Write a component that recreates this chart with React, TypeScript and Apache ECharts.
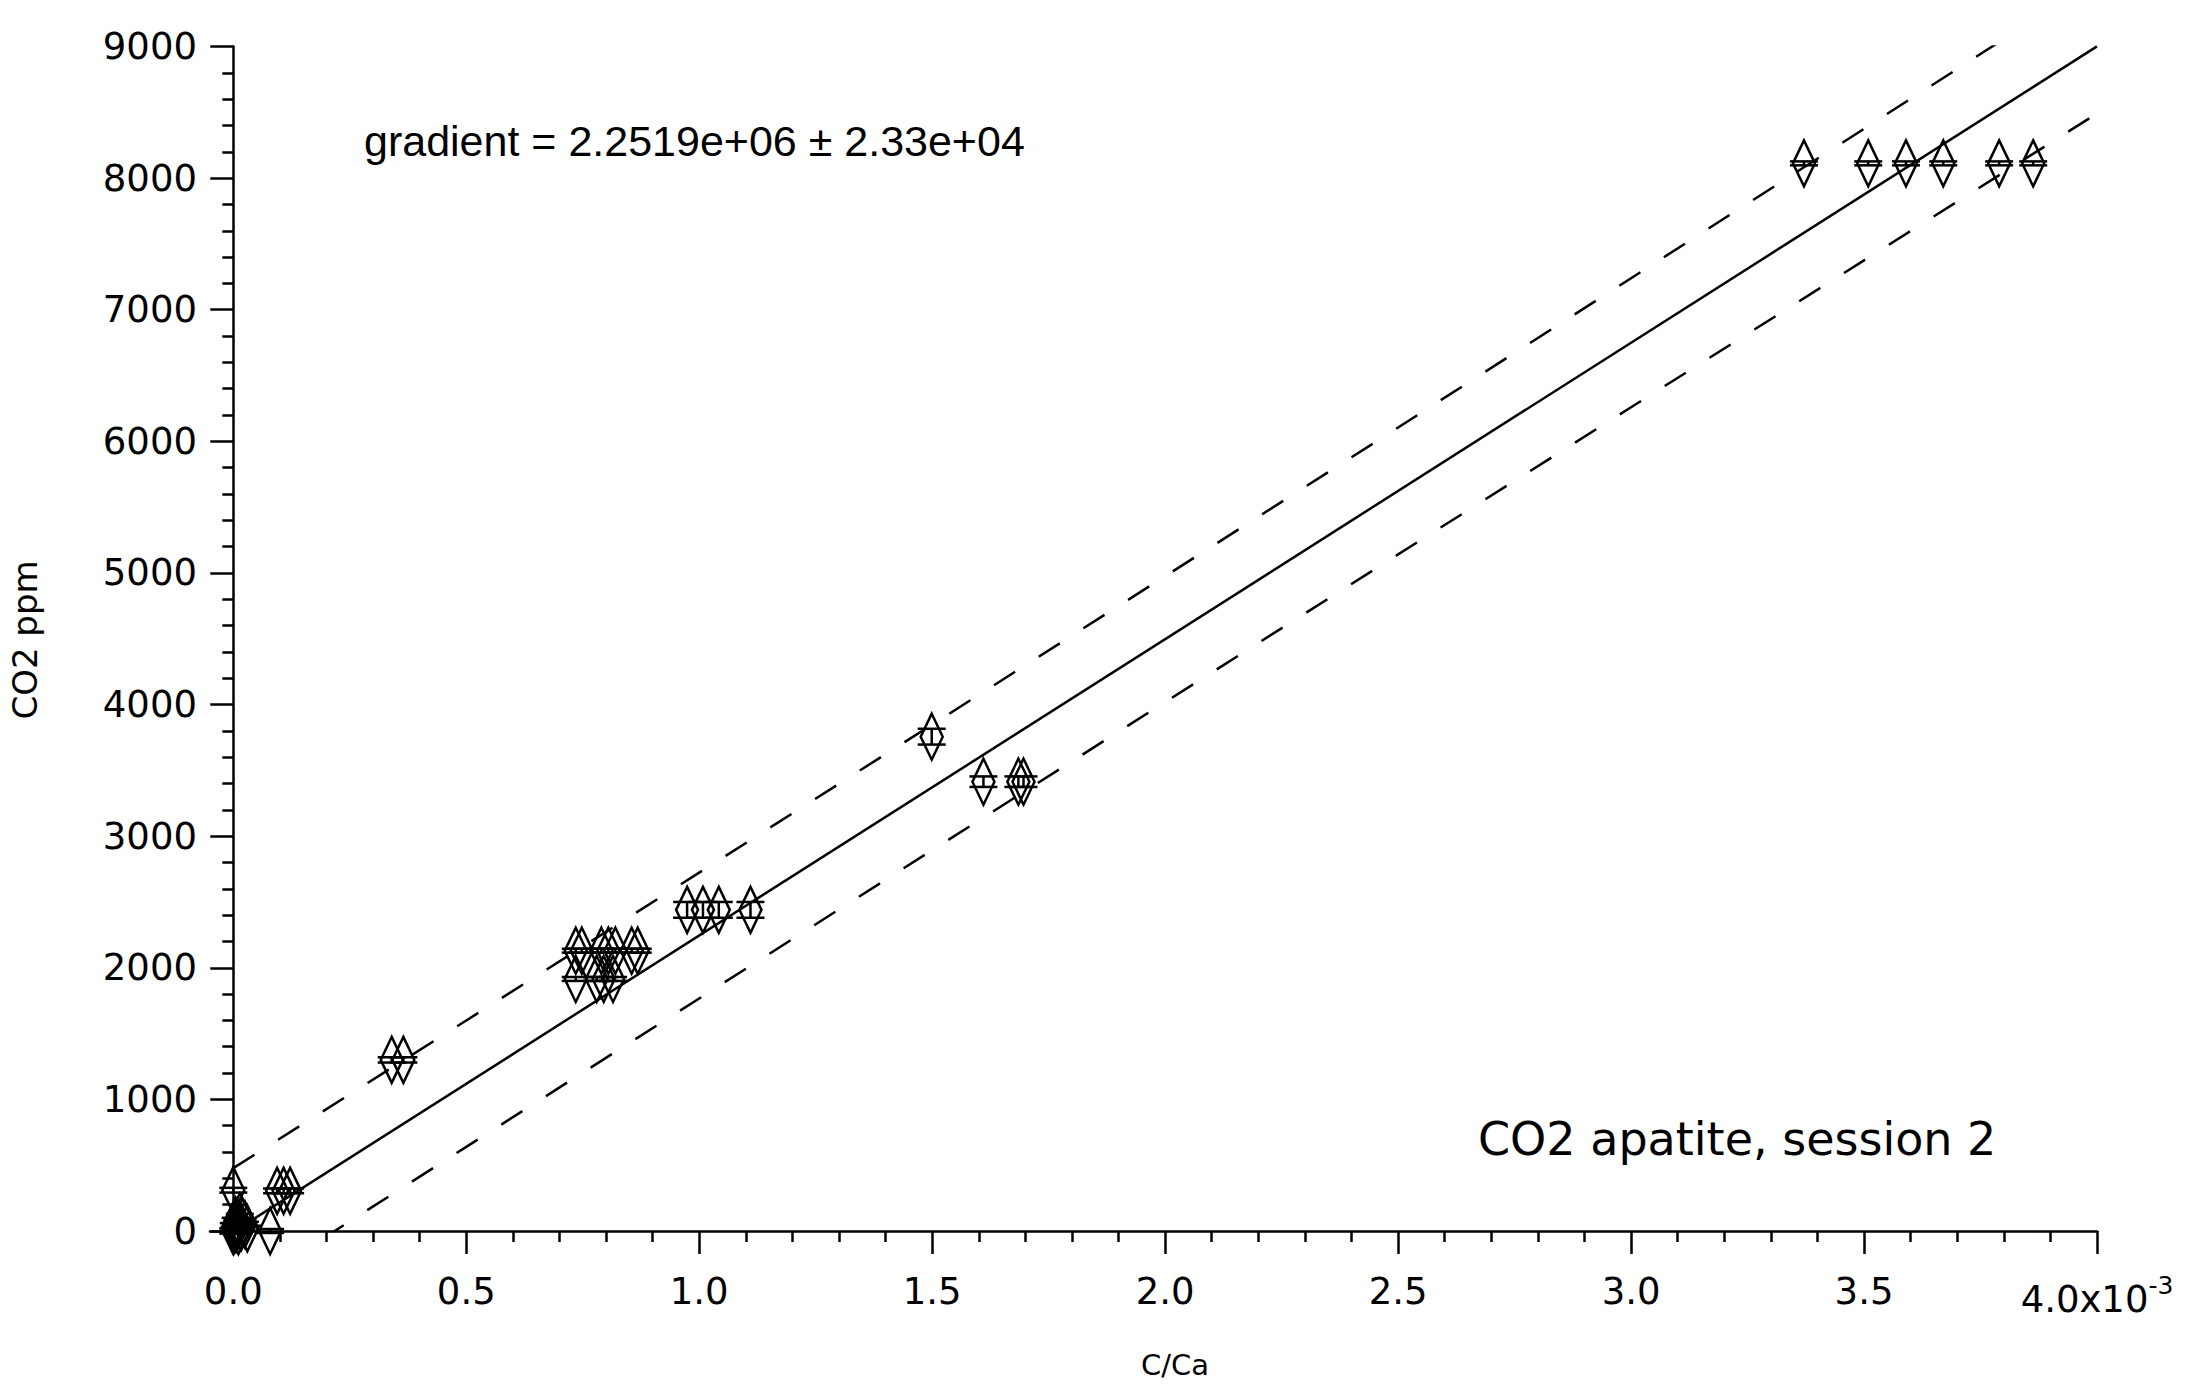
import React, { useEffect, useRef } from "react";
import * as echarts from "echarts";

// ---- axis ticks ----
const xMajorTicks = [0, 0.0005, 0.001, 0.0015, 0.002, 0.0025, 0.003, 0.0035, 0.004];
const xMinorTicks = [
  0.0001, 0.0002, 0.0003, 0.0004, 0.0006, 0.0007, 0.0008, 0.0009,
  0.0011, 0.0012, 0.0013, 0.0014, 0.0016, 0.0017, 0.0018, 0.0019,
  0.0021, 0.0022, 0.0023, 0.0024, 0.0026, 0.0027, 0.0028, 0.0029,
  0.0031, 0.0032, 0.0033, 0.0034, 0.0036, 0.0037, 0.0038, 0.0039,
];
const yMin = 0;
const yMax = 9000;
const yInterval = 1000;

// ---- measurements: C/Ca, CO2 ppm, CO2 error (ppm) ----
const cCa = [
  0.0, 0.000001, 0.000003, 0.000005, 0.000007, 0.000009, 0.000011, 0.000014, 0.000017, 0.00002, 0.000025, 0.00003,
  0.0, 0.000079, 0.000094, 0.000108, 0.000122,
  0.00034, 0.000365,
  0.000735, 0.000748, 0.00079, 0.000805, 0.00082, 0.000855, 0.000868,
  0.000735, 0.00078, 0.000795, 0.000815,
  0.000974, 0.001008, 0.001042, 0.00111,
  0.001499,
  0.00161, 0.001685, 0.001696,
  0.003371, 0.003509, 0.00359, 0.00367, 0.00379, 0.003863,
];
const co2 = [
  0, 40, 10, 80, 20, 60, 0, 110, 30, 70, 50, 20,
  310, 0, 305, 305, 305,
  1300, 1300,
  2130, 2130, 2130, 2130, 2130, 2130, 2130,
  1915, 1915, 1915, 1915,
  2440, 2440, 2440, 2440,
  3756,
  3414, 3414, 3414,
  8112, 8112, 8112, 8112, 8112, 8112,
];
const co2Err = [
  20, 20, 20, 20, 20, 20, 20, 20, 20, 20, 20, 20,
  18, 15, 18, 18, 18,
  20, 20,
  15, 15, 15, 15, 15, 15, 15,
  15, 15, 15, 15,
  60, 60, 60, 60,
  60,
  40, 40, 40,
  15, 15, 15, 15, 15, 15,
];

// ---- fit line and prediction band ----
const fitX = [0, 0.004];
const fitY = [-7, 9001];
const bandX = [0, 0.0005, 0.001, 0.0015, 0.002, 0.0025, 0.003, 0.0035, 0.004];
const bandUpper = [478, 1599, 2723, 3848, 4975, 6105, 7239, 8375, 9511];
const bandLower = [-492, 639, 1767, 2894, 4019, 5141, 6259, 7375, 8491];

// ---- texts ----
const xTitle = "C/Ca";
const yTitle = "CO2 ppm";
const gradientLabel = "gradient = 2.2519e+06 \u00b1 2.33e+04";
const sessionLabel = "CO2 apatite, session 2";

const FONT = "'DejaVu Sans', Verdana, sans-serif";

export default function App() {
  const ref = useRef<HTMLDivElement>(null);

  useEffect(() => {
    if (!ref.current) return;
    const chart = echarts.init(ref.current, null, { renderer: "svg" });

    const points = cCa.map((x, i) => [x, co2[i], co2Err[i]]);
    const fit = fitX.map((x, i) => [x, fitY[i]]);
    const upper = bandX.map((x, i) => [x, bandUpper[i]]);
    const lower = bandX.map((x, i) => [x, bandLower[i]]);

    const black = "#000";
    const lw = 2.5;

    const option: any = {
      animation: false,
      backgroundColor: "#fff",
      textStyle: { fontFamily: FONT, color: black },
      grid: { left: 210, right: 114, top: 46.5, bottom: 156, containLabel: false, outerBoundsMode: "none" },
      xAxis: [
        {
          type: "value",
          min: -0.00005,
          max: 0.004,
          position: "bottom",
          axisLine: { show: true, onZero: true, lineStyle: { color: black, width: lw } },
          axisTick: { show: true, customValues: xMajorTicks, length: 23, lineStyle: { color: black, width: lw } },
          axisLabel: {
            show: true,
            customValues: xMajorTicks,
            margin: 42,
            fontSize: 37,
            fontFamily: FONT,
            color: black,
            formatter: (v: number) =>
              v > 0.00399 ? "{b|4.0x10}{s|-3}" : (v * 1000).toFixed(1),
            rich: {
              b: { fontSize: 37, fontFamily: FONT, color: black },
              s: { fontSize: 25, fontFamily: FONT, color: black, padding: [0, 0, 27, 0] },
            },
          },
          splitLine: { show: false },
        },
        {
          type: "value",
          min: -0.00005,
          max: 0.004,
          position: "bottom",
          axisLine: { show: false, onZero: false },
          axisTick: { show: true, customValues: xMinorTicks, length: 11, lineStyle: { color: black, width: lw } },
          axisLabel: { show: false },
          splitLine: { show: false },
        },
      ],
      yAxis: {
        type: "value",
        min: yMin,
        max: yMax,
        interval: yInterval,
        axisLine: { show: true, onZero: true, onZeroAxisIndex: 0, lineStyle: { color: black, width: lw } },
        axisTick: { show: true, length: 23, lineStyle: { color: black, width: lw } },
        minorTick: { show: true, splitNumber: 5, length: 11, lineStyle: { color: black, width: lw } },
        axisLabel: {
          margin: 13,
          fontSize: 37,
          fontFamily: FONT,
          color: black,
          formatter: (v: number) => String(Math.round(v)),
        },
        splitLine: { show: false },
        minorSplitLine: { show: false },
      },
      series: [
        {
          name: "fit",
          type: "line",
          xAxisIndex: 0,
          yAxisIndex: 0,
          data: fit,
          symbol: "none",
          clip: true,
          lineStyle: { color: black, width: lw, type: "solid" },
          silent: true,
        },
        {
          name: "upper band",
          type: "line",
          xAxisIndex: 0,
          yAxisIndex: 0,
          data: upper,
          symbol: "none",
          clip: true,
          lineStyle: { color: black, width: lw, type: [25, 28] },
          silent: true,
        },
        {
          name: "lower band",
          type: "line",
          xAxisIndex: 0,
          yAxisIndex: 0,
          data: lower,
          symbol: "none",
          clip: true,
          lineStyle: { color: black, width: lw, type: [25, 28] },
          silent: true,
        },
        {
          name: "CO2 apatite",
          type: "custom",
          xAxisIndex: 0,
          yAxisIndex: 0,
          data: points,
          encode: { x: 0, y: 1 },
          silent: true,
          renderItem: (_params: any, api: any) => {
            const x = api.value(0);
            const y = api.value(1);
            const e = api.value(2);
            const c = api.coord([x, y]);
            const t = api.coord([x, y + e]);
            const b = api.coord([x, y - e]);
            const hw = 11;
            const hh = 23;
            const cw = 14;
            const style = { stroke: black, fill: "none", lineWidth: lw };
            return {
              type: "group",
              children: [
                {
                  type: "polygon",
                  shape: {
                    points: [
                      [c[0], c[1] - hh],
                      [c[0] + hw, c[1]],
                      [c[0], c[1] + hh],
                      [c[0] - hw, c[1]],
                    ],
                  },
                  style,
                },
                { type: "line", shape: { x1: c[0], y1: t[1], x2: c[0], y2: b[1] }, style },
                { type: "line", shape: { x1: c[0] - cw, y1: t[1], x2: c[0] + cw, y2: t[1] }, style },
                { type: "line", shape: { x1: c[0] - cw, y1: b[1], x2: c[0] + cw, y2: b[1] }, style },
              ],
            };
          },
        },
      ],
      graphic: [
        {
          type: "text",
          x: 364,
          y: 141,
          style: {
            text: gradientLabel,
            fontSize: 43,
            fontFamily: "'Liberation Sans', Arial, sans-serif",
            fill: black,
            align: "left",
            verticalAlign: "middle",
          },
        },
        {
          type: "text",
          x: 1478,
          y: 1139,
          style: {
            text: sessionLabel,
            fontSize: 46,
            fontFamily: FONT,
            fill: black,
            align: "left",
            verticalAlign: "middle",
          },
        },
        {
          type: "text",
          x: 1175,
          y: 1365,
          style: {
            text: xTitle,
            fontSize: 29,
            fontFamily: FONT,
            fill: black,
            align: "center",
            verticalAlign: "middle",
          },
        },
        {
          type: "text",
          x: 25,
          y: 640,
          rotation: Math.PI / 2,
          style: {
            text: yTitle,
            fontSize: 34,
            fontFamily: FONT,
            fill: black,
            align: "center",
            verticalAlign: "middle",
          },
        },
      ],
    };

    chart.setOption(option);
    return () => chart.dispose();
  }, []);

  return (
    <div
      ref={ref}
      style={{ position: "absolute", left: 0, top: 0, width: 2211, height: 1387, background: "#fff" }}
    />
  );
}
